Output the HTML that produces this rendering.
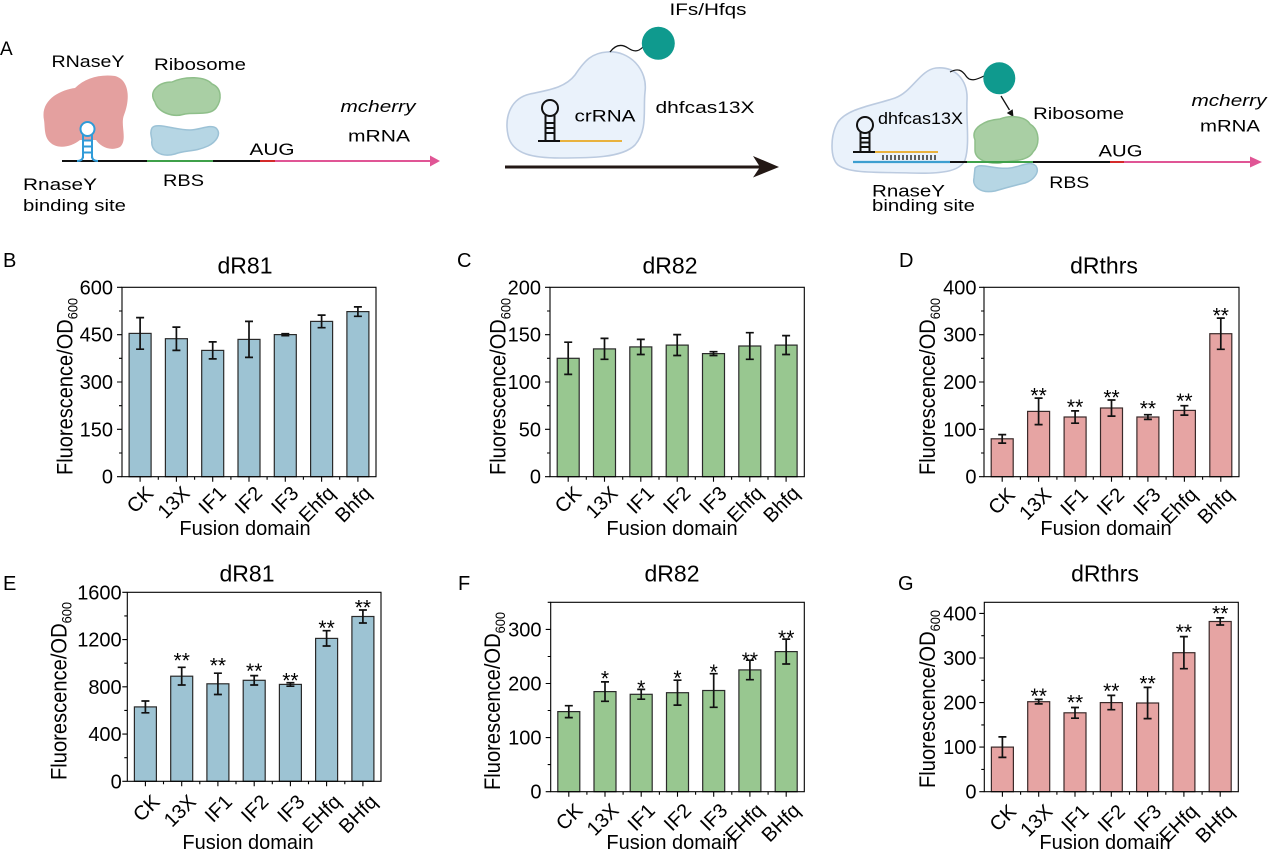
<!DOCTYPE html>
<html><head><meta charset="utf-8"><style>
html,body{margin:0;padding:0;background:#fff}
svg{display:block;font-family:"Liberation Sans",Arial,sans-serif}
.tk{font-size:20px;text-anchor:end}
.ct{font-size:20px;text-anchor:end}
.tl{font-size:23px;text-anchor:middle}
.ax{font-size:20px;text-anchor:middle}
.yl{font-size:22px;text-anchor:middle}
.st{font-size:21px;text-anchor:middle}
.pl{font-size:20px}
.s{font-size:17px}
.m{text-anchor:middle}
.fr{fill:none;stroke:#000;stroke-width:1.1}
.tm{fill:none;stroke:#000;stroke-width:1.1}
.eb{fill:none;stroke:#111;stroke-width:1.7}
.bb{fill:#9dc3d3;stroke:#2a2a2a;stroke-width:1.2}
.bg{fill:#98c790;stroke:#2a2a2a;stroke-width:1.2}
.bp{fill:#e6a4a3;stroke:#3a2a2a;stroke-width:1.2}
</style></head><body>
<svg width="1269" height="852" viewBox="0 0 1269 852" xmlns="http://www.w3.org/2000/svg">
<rect width="1269" height="852" fill="#fff"/>

<!-- ===== Panel A left ===== -->
<text x="0" y="55" style="font-size:19px">A</text>
<text x="88" y="67" class="s m" textLength="73" lengthAdjust="spacingAndGlyphs">RNaseY</text>
<text x="200" y="70" class="s m" textLength="92" lengthAdjust="spacingAndGlyphs">Ribosome</text>
<path d="M44 120 C40 100,60 90,75 88 C85 78,100 74,115 76 C130 80,130 100,124 115 C120 125,128 140,120 147 C110 152,100 146,96 140 L80 140 C70 148,55 150,48 140 C44 134,45 126,44 120 Z" fill="#e4a09f"/>
<path d="M155 102 C148 92,158 82,172 82 C185 76,205 76,212 84 C222 88,222 100,216 108 C210 116,195 112,185 114 C172 118,158 112,155 102 Z" fill="#a9cfa4" stroke="#8fbf8a" stroke-width="1.5"/>
<path d="M152 128 C156 122,175 130,190 130 C200 130,210 124,216 128 C222 134,216 142,208 146 C195 152,185 150,175 154 C160 158,150 150,152 140 C151 135,150 132,152 128 Z" fill="#b6d6e4" stroke="#9cc2d6" stroke-width="1.5"/>
<path d="M62 161H147" stroke="#111" stroke-width="2"/>
<path d="M147 161H213" stroke="#3fa04a" stroke-width="2"/>
<path d="M213 161H260" stroke="#111" stroke-width="2"/>
<path d="M260 161H275" stroke="#d42a2a" stroke-width="2"/>
<path d="M275 161H432" stroke="#e05595" stroke-width="2"/>
<polygon points="430,155.5 440,161 430,166.5" fill="#e05595"/>
<circle cx="87.5" cy="129" r="7" fill="#fff" stroke="#2f9bd8" stroke-width="2"/>
<path d="M83 135V158M92 135V158M83 140.5H92M83 146.5H92M83 152.5H92M77 161Q83 161 83 156M98 161Q92 161 92 156" fill="none" stroke="#2f9bd8" stroke-width="2"/>
<text x="272" y="155" class="s m" textLength="45" lengthAdjust="spacingAndGlyphs">AUG</text>
<text x="378" y="112" class="s m" font-style="italic" textLength="75" lengthAdjust="spacingAndGlyphs">mcherry</text>
<text x="379" y="141.5" class="s m" textLength="62" lengthAdjust="spacingAndGlyphs">mRNA</text>
<text x="23" y="190" class="s" textLength="74" lengthAdjust="spacingAndGlyphs">RnaseY</text>
<text x="23" y="211" class="s" textLength="103" lengthAdjust="spacingAndGlyphs">binding site</text>
<text x="183.5" y="186" class="s m" textLength="41" lengthAdjust="spacingAndGlyphs">RBS</text>

<!-- ===== Panel A middle ===== -->
<text x="708" y="15" class="s m" textLength="77" lengthAdjust="spacingAndGlyphs">IFs/Hfqs</text>
<path d="M607 52 C630 50,648 70,645 92 C643 110,648 130,635 145 C622 158,590 158,560 158 C535 158,512 155,508 135 C504 115,512 98,530 94 C548 90,565 88,575 75 C585 60,592 53,607 52 Z" fill="#eaf2fb" stroke="#bccbe0" stroke-width="1.6"/>
<path d="M610 52 C616 44,622 44,628 48 S638 52,643 47" fill="none" stroke="#111" stroke-width="1.2"/>
<circle cx="658.3" cy="43.3" r="16.5" fill="#0f9a8e"/>
<circle cx="550" cy="108" r="8" fill="none" stroke="#111" stroke-width="2"/>
<path d="M545.5 115V141M554.5 115V141M545.5 123H554.5M545.5 128H554.5M545.5 133H554.5M538 141H560" fill="none" stroke="#111" stroke-width="2"/>
<path d="M560 141H622" stroke="#e9b23e" stroke-width="2"/>
<text x="605" y="121.5" class="s m" textLength="61" lengthAdjust="spacingAndGlyphs">crRNA</text>
<text x="705" y="113" class="s m" textLength="99" lengthAdjust="spacingAndGlyphs">dhfcas13X</text>
<path d="M505 167H762" stroke="#231815" stroke-width="3"/>
<path d="M753 156 L779 167 L753 177.5 L760 167 Z" fill="#231815"/>

<!-- ===== Panel A right ===== -->
<path d="M936 68 C955 66,968 80,967 100 C966 120,970 145,965 160 C960 172,940 174,910 173 C880 172,850 174,838 165 C830 158,830 135,838 122 C848 108,875 105,895 98 C912 92,920 70,936 68 Z" fill="#eaf2fb" stroke="#bccbe0" stroke-width="1.6"/>
<path d="M950 72 C958 68,962 70,966 76 S976 80,984 76" fill="none" stroke="#111" stroke-width="1.2"/>
<circle cx="999.3" cy="78.3" r="16" fill="#0f9a8e"/>
<path d="M1001 96 L1009.5 110" stroke="#111" stroke-width="1.3"/>
<polygon points="1013.5,117 1012.7,109.2 1006.8,113" fill="#111"/>
<path d="M975 140 C970 128,985 120,1000 119 C1010 115,1025 116,1030 124 C1040 130,1040 145,1033 152 C1028 162,1010 160,1000 163 C988 164,975 160,975 150 Z" fill="#a9cfa4" stroke="#8fbf8a" stroke-width="1.5"/>
<path d="M975 168 C980 162,995 170,1010 168 C1020 167,1030 160,1036 166 C1040 172,1034 180,1025 183 C1012 186,1005 188,995 191 C980 194,972 186,974 178 Z" fill="#b6d6e4" stroke="#9cc2d6" stroke-width="1.5"/>
<circle cx="865" cy="125" r="8" fill="none" stroke="#111" stroke-width="2"/>
<path d="M860.5 132V152M869.5 132V152M860.5 138H869.5M860.5 142.5H869.5M860.5 147H869.5M853 152H875" fill="none" stroke="#111" stroke-width="2"/>
<path d="M875 152H938" stroke="#e9b23e" stroke-width="2"/>
<path d="M883 155V160M887 155V160M891 155V160M895 155V160M899 155V160M903 155V160M907 155V160M911 155V160M915 155V160M919 155V160M923 155V160M927 155V160M931 155V160M935 155V160" stroke="#111" stroke-width="1.3"/>
<path d="M853 162H950" stroke="#3d9fd0" stroke-width="2.2"/>
<path d="M950 162H967" stroke="#111" stroke-width="2"/>
<path d="M967 162H1033" stroke="#3fa04a" stroke-width="2"/>
<path d="M1033 162H1110" stroke="#111" stroke-width="2"/>
<path d="M1110 162H1124" stroke="#d42a2a" stroke-width="2"/>
<path d="M1124 162H1252" stroke="#e05595" stroke-width="2"/>
<polygon points="1250,156.5 1262,162 1250,167.5" fill="#e05595"/>
<text x="878" y="124" class="s" textLength="85" lengthAdjust="spacingAndGlyphs">dhfcas13X</text>
<text x="1078.7" y="119" class="s m" textLength="91" lengthAdjust="spacingAndGlyphs">Ribosome</text>
<text x="1229" y="106" class="s m" font-style="italic" textLength="75" lengthAdjust="spacingAndGlyphs">mcherry</text>
<text x="1230" y="131.5" class="s m" textLength="60" lengthAdjust="spacingAndGlyphs">mRNA</text>
<text x="1120.5" y="156.5" class="s m" textLength="44" lengthAdjust="spacingAndGlyphs">AUG</text>
<text x="1069.3" y="188" class="s m" textLength="40" lengthAdjust="spacingAndGlyphs">RBS</text>
<text x="872" y="196.5" class="s" textLength="73" lengthAdjust="spacingAndGlyphs">RnaseY</text>
<text x="872" y="211" class="s" textLength="103" lengthAdjust="spacingAndGlyphs">binding site</text>

<!-- ===== Panel B ===== -->
<text x="3" y="267" class="pl">B</text>
<text x="245" y="273.3" class="tl">dR81</text>
<rect x="129.1" y="333.4" width="22" height="143.3" class="bb"/>
<rect x="165.4" y="338.7" width="22" height="138" class="bb"/>
<rect x="201.7" y="350.4" width="22" height="126.3" class="bb"/>
<rect x="238" y="339.4" width="22" height="137.3" class="bb"/>
<rect x="274.3" y="334.6" width="22" height="142.1" class="bb"/>
<rect x="310.6" y="321.4" width="22" height="155.3" class="bb"/>
<rect x="346.9" y="311.6" width="22" height="165.1" class="bb"/>
<path class="eb" d="M136.1 317.6H144.1M140.1 317.6V349.2M136.1 349.2H144.1M172.4 327.1H180.4M176.4 327.1V350.4M172.4 350.4H180.4M208.7 341.9H216.7M212.7 341.9V358.9M208.7 358.9H216.7M245 321.4H253M249 321.4V357.4M245 357.4H253M281.3 333.7H289.3M285.3 333.7V335.6M281.3 335.6H289.3M317.6 315.1H325.6M321.6 315.1V327.7M317.6 327.7H325.6M353.9 306.9H361.9M357.9 306.9V316.3M353.9 316.3H361.9"/>
<rect x="122" y="287.3" width="254" height="189.4" class="fr"/>
<path class="tm" d="M117 287.3H122M117 334.65H122M117 382H122M117 429.35H122M117 476.7H122M119 311H122M119 358.3H122M119 405.7H122M119 453H122M140.1 476.7V481.7M176.4 476.7V481.7M212.7 476.7V481.7M249 476.7V481.7M285.3 476.7V481.7M321.6 476.7V481.7M357.9 476.7V481.7M158.3 476.7V479.7M194.6 476.7V479.7M230.9 476.7V479.7M267.1 476.7V479.7M303.4 476.7V479.7M339.7 476.7V479.7"/>
<text x="113" y="294.3" class="tk">600</text>
<text x="113" y="341.65" class="tk">450</text>
<text x="113" y="389" class="tk">300</text>
<text x="113" y="436.35" class="tk">150</text>
<text x="113" y="483.7" class="tk">0</text>
<text class="ct" transform="translate(154.6,494.5) rotate(-45)">CK</text>
<text class="ct" transform="translate(190.9,494.5) rotate(-45)">13X</text>
<text class="ct" transform="translate(227.2,494.5) rotate(-45)">IF1</text>
<text class="ct" transform="translate(263.5,494.5) rotate(-45)">IF2</text>
<text class="ct" transform="translate(299.8,494.5) rotate(-45)">IF3</text>
<text class="ct" transform="translate(336.1,494.5) rotate(-45)">Ehfq</text>
<text class="ct" transform="translate(372.4,494.5) rotate(-45)">Bhfq</text>
<text x="245" y="535" class="ax">Fusion domain</text>
<text class="yl" transform="translate(72.5,386.5) rotate(-90)" textLength="177" lengthAdjust="spacingAndGlyphs">Fluorescence/OD<tspan font-size="14" dy="5">600</tspan></text>

<!-- ===== Panel C ===== -->
<text x="457" y="267" class="pl">C</text>
<text x="670" y="273.3" class="tl">dR82</text>
<rect x="557.2" y="358.3" width="22" height="118.4" class="bg"/>
<rect x="593.5" y="348.9" width="22" height="127.8" class="bg"/>
<rect x="629.8" y="346.9" width="22" height="129.8" class="bg"/>
<rect x="666.2" y="345.1" width="22" height="131.6" class="bg"/>
<rect x="702.5" y="353.6" width="22" height="123.1" class="bg"/>
<rect x="738.8" y="346" width="22" height="130.7" class="bg"/>
<rect x="775.1" y="345.1" width="22" height="131.6" class="bg"/>
<path class="eb" d="M564.2 342.2H572.2M568.2 342.2V374.4M564.2 374.4H572.2M600.5 338.4H608.5M604.5 338.4V359.3M600.5 359.3H608.5M636.8 339.4H644.8M640.8 339.4V354.5M636.8 354.5H644.8M673.2 334.6H681.2M677.2 334.6V355.5M673.2 355.5H681.2M709.5 351.7H717.5M713.5 351.7V355.5M709.5 355.5H717.5M745.8 332.7H753.8M749.8 332.7V359.3M745.8 359.3H753.8M782.1 335.6H790.1M786.1 335.6V354.5M782.1 354.5H790.1"/>
<rect x="550" y="287.3" width="254.3" height="189.4" class="fr"/>
<path class="tm" d="M545 287.3H550M545 334.65H550M545 382H550M545 429.35H550M545 476.7H550M547 311H550M547 358.3H550M547 405.7H550M547 453H550M568.2 476.7V481.7M604.5 476.7V481.7M640.8 476.7V481.7M677.2 476.7V481.7M713.5 476.7V481.7M749.8 476.7V481.7M786.1 476.7V481.7M586.3 476.7V479.7M622.7 476.7V479.7M659 476.7V479.7M695.3 476.7V479.7M731.6 476.7V479.7M768 476.7V479.7"/>
<text x="541" y="294.3" class="tk">200</text>
<text x="541" y="341.65" class="tk">150</text>
<text x="541" y="389" class="tk">100</text>
<text x="541" y="436.35" class="tk">50</text>
<text x="541" y="483.7" class="tk">0</text>
<text class="ct" transform="translate(582.7,494.5) rotate(-45)">CK</text>
<text class="ct" transform="translate(619,494.5) rotate(-45)">13X</text>
<text class="ct" transform="translate(655.3,494.5) rotate(-45)">IF1</text>
<text class="ct" transform="translate(691.7,494.5) rotate(-45)">IF2</text>
<text class="ct" transform="translate(728,494.5) rotate(-45)">IF3</text>
<text class="ct" transform="translate(764.3,494.5) rotate(-45)">Ehfq</text>
<text class="ct" transform="translate(800.6,494.5) rotate(-45)">Bhfq</text>
<text x="672" y="535" class="ax">Fusion domain</text>
<text class="yl" transform="translate(505.5,386.5) rotate(-90)" textLength="177" lengthAdjust="spacingAndGlyphs">Fluorescence/OD<tspan font-size="14" dy="5">600</tspan></text>

<!-- ===== Panel D ===== -->
<text x="899" y="267" class="pl">D</text>
<text x="1104" y="273.3" class="tl">dRthrs</text>
<rect x="991.2" y="438.8" width="22" height="37.9" class="bp"/>
<rect x="1027.6" y="411.4" width="22" height="65.3" class="bp"/>
<rect x="1064.1" y="417" width="22" height="59.7" class="bp"/>
<rect x="1100.5" y="408" width="22" height="68.7" class="bp"/>
<rect x="1136.9" y="417" width="22" height="59.7" class="bp"/>
<rect x="1173.4" y="410.4" width="22" height="66.3" class="bp"/>
<rect x="1209.8" y="333.7" width="22" height="143" class="bp"/>
<path class="eb" d="M998.2 434.6H1006.2M1002.2 434.6V443.1M998.2 443.1H1006.2M1034.6 398.1H1042.6M1038.6 398.1V424.6M1034.6 424.6H1042.6M1071.1 410.9H1079.1M1075.1 410.9V423.2M1071.1 423.2H1079.1M1107.5 400H1115.5M1111.5 400V416.1M1107.5 416.1H1115.5M1143.9 414.7H1151.9M1147.9 414.7V419.4M1143.9 419.4H1151.9M1180.4 405.7H1188.4M1184.4 405.7V415.1M1180.4 415.1H1188.4M1216.8 318.1H1224.8M1220.8 318.1V349.3M1216.8 349.3H1224.8"/>
<text x="1038.6" y="402.3" class="st">**</text>
<text x="1075.1" y="414" class="st">**</text>
<text x="1111.5" y="404.7" class="st">**</text>
<text x="1147.9" y="415.7" class="st">**</text>
<text x="1184.4" y="408" class="st">**</text>
<text x="1220.8" y="322.3" class="st">**</text>
<rect x="984" y="287.3" width="255" height="189.4" class="fr"/>
<path class="tm" d="M979 287.3H984M979 334.65H984M979 382H984M979 429.35H984M979 476.7H984M981 311H984M981 358.3H984M981 405.7H984M981 453H984M1002.2 476.7V481.7M1038.6 476.7V481.7M1075.1 476.7V481.7M1111.5 476.7V481.7M1147.9 476.7V481.7M1184.4 476.7V481.7M1220.8 476.7V481.7M1020.4 476.7V479.7M1056.9 476.7V479.7M1093.3 476.7V479.7M1129.7 476.7V479.7M1166.1 476.7V479.7M1202.6 476.7V479.7"/>
<text x="976.5" y="294.3" class="tk">400</text>
<text x="976.5" y="341.65" class="tk">300</text>
<text x="976.5" y="389" class="tk">200</text>
<text x="976.5" y="436.35" class="tk">100</text>
<text x="976.5" y="483.7" class="tk">0</text>
<text class="ct" transform="translate(1016.2,496) rotate(-45)">CK</text>
<text class="ct" transform="translate(1052.6,496) rotate(-45)">13X</text>
<text class="ct" transform="translate(1089.1,496) rotate(-45)">IF1</text>
<text class="ct" transform="translate(1125.5,496) rotate(-45)">IF2</text>
<text class="ct" transform="translate(1161.9,496) rotate(-45)">IF3</text>
<text class="ct" transform="translate(1198.4,496) rotate(-45)">Ehfq</text>
<text class="ct" transform="translate(1234.8,496) rotate(-45)">Bhfq</text>
<text x="1106" y="535" class="ax">Fusion domain</text>
<text class="yl" transform="translate(935,386.5) rotate(-90)" textLength="177" lengthAdjust="spacingAndGlyphs">Fluorescence/OD<tspan font-size="14" dy="5">600</tspan></text>

<!-- ===== Panel E ===== -->
<text x="3" y="590" class="pl">E</text>
<text x="247" y="581.7" class="tl">dR81</text>
<rect x="134.4" y="706.9" width="22" height="74.4" class="bb"/>
<rect x="170.7" y="676.2" width="22" height="105.1" class="bb"/>
<rect x="206.9" y="683.8" width="22" height="97.5" class="bb"/>
<rect x="243.2" y="680.3" width="22" height="101" class="bb"/>
<rect x="279.4" y="684.4" width="22" height="96.9" class="bb"/>
<rect x="315.6" y="638.4" width="22" height="142.9" class="bb"/>
<rect x="351.9" y="616.5" width="22" height="164.8" class="bb"/>
<path class="eb" d="M141.4 701H149.4M145.4 701V712.8M141.4 712.8H149.4M177.7 667.3H185.7M181.7 667.3V685M177.7 685H185.7M213.9 673.2H221.9M217.9 673.2V694.5M213.9 694.5H221.9M250.2 675.6H258.2M254.2 675.6V685M250.2 685H258.2M286.4 682.7H294.4M290.4 682.7V686.2M286.4 686.2H294.4M322.6 630.7H330.6M326.6 630.7V646M322.6 646H330.6M358.9 610H366.9M362.9 610V623M358.9 623H366.9"/>
<text x="181.7" y="667.3" class="st">**</text>
<text x="217.9" y="672.3" class="st">**</text>
<text x="254.2" y="678" class="st">**</text>
<text x="290.4" y="687.3" class="st">**</text>
<text x="326.6" y="635" class="st">**</text>
<text x="362.9" y="614.7" class="st">**</text>
<rect x="127.3" y="592.3" width="253.7" height="189" class="fr"/>
<path class="tm" d="M122.3 592.3H127.3M122.3 639.55H127.3M122.3 686.8H127.3M122.3 734.05H127.3M122.3 781.3H127.3M124.3 615.9H127.3M124.3 663.2H127.3M124.3 710.4H127.3M124.3 757.7H127.3M145.4 781.3V786.3M181.7 781.3V786.3M217.9 781.3V786.3M254.2 781.3V786.3M290.4 781.3V786.3M326.6 781.3V786.3M362.9 781.3V786.3M163.5 781.3V784.3M199.8 781.3V784.3M236 781.3V784.3M272.3 781.3V784.3M308.5 781.3V784.3M344.8 781.3V784.3"/>
<text x="121.7" y="599.3" class="tk">1600</text>
<text x="121.7" y="646.55" class="tk">1200</text>
<text x="121.7" y="693.8" class="tk">800</text>
<text x="121.7" y="741.05" class="tk">400</text>
<text x="121.7" y="788.3" class="tk">0</text>
<text class="ct" transform="translate(160.9,803) rotate(-45)">CK</text>
<text class="ct" transform="translate(197.2,803) rotate(-45)">13X</text>
<text class="ct" transform="translate(233.4,803) rotate(-45)">IF1</text>
<text class="ct" transform="translate(269.7,803) rotate(-45)">IF2</text>
<text class="ct" transform="translate(305.9,803) rotate(-45)">IF3</text>
<text class="ct" transform="translate(342.1,803) rotate(-45)">EHfq</text>
<text class="ct" transform="translate(378.4,803) rotate(-45)">BHfq</text>
<text x="248" y="849" class="ax">Fusion domain</text>
<text class="yl" transform="translate(66.5,691) rotate(-90)" textLength="178" lengthAdjust="spacingAndGlyphs">Fluorescence/OD<tspan font-size="14" dy="5">600</tspan></text>

<!-- ===== Panel F ===== -->
<text x="458" y="590" class="pl">F</text>
<text x="672" y="581.7" class="tl">dR82</text>
<rect x="557.8" y="711.6" width="22" height="80.1" class="bg"/>
<rect x="594" y="691.6" width="22" height="100.1" class="bg"/>
<rect x="630.2" y="694.3" width="22" height="97.4" class="bg"/>
<rect x="666.5" y="692.7" width="22" height="99" class="bg"/>
<rect x="702.7" y="690.5" width="22" height="101.2" class="bg"/>
<rect x="738.9" y="669.9" width="22" height="121.8" class="bg"/>
<rect x="775.2" y="651.6" width="22" height="140.1" class="bg"/>
<path class="eb" d="M564.8 705.7H572.8M568.8 705.7V717.6M564.8 717.6H572.8M601 681.9H609M605 681.9V701.3M601 701.3H609M637.2 689.4H645.2M641.2 689.4V699.2M637.2 699.2H645.2M673.5 680.2H681.5M677.5 680.2V705.1M673.5 705.1H681.5M709.7 673.7H717.7M713.7 673.7V707.3M709.7 707.3H717.7M745.9 660.2H753.9M749.9 660.2V679.7M745.9 679.7H753.9M782.2 639.1H790.2M786.2 639.1V664M782.2 664H790.2"/>
<text x="605" y="685.7" class="st">*</text>
<text x="641.2" y="695" class="st">*</text>
<text x="677.5" y="685" class="st">*</text>
<text x="713.7" y="679" class="st">*</text>
<text x="749.9" y="667" class="st">**</text>
<text x="786.2" y="645" class="st">**</text>
<rect x="550.7" y="602.3" width="253.6" height="189.4" class="fr"/>
<path class="tm" d="M545.7 629.4H550.7M545.7 683.5H550.7M545.7 737.6H550.7M545.7 791.7H550.7M547.7 656.5H550.7M547.7 710.5H550.7M547.7 764.6H550.7M547.7 602.3H550.7M568.8 791.7V796.7M605 791.7V796.7M641.2 791.7V796.7M677.5 791.7V796.7M713.7 791.7V796.7M749.9 791.7V796.7M786.2 791.7V796.7M586.9 791.7V794.7M623.1 791.7V794.7M659.4 791.7V794.7M695.6 791.7V794.7M731.8 791.7V794.7M768.1 791.7V794.7"/>
<text x="541.5" y="636.4" class="tk">300</text>
<text x="541.5" y="690.5" class="tk">200</text>
<text x="541.5" y="744.6" class="tk">100</text>
<text x="541.5" y="798.7" class="tk">0</text>
<text class="ct" transform="translate(583.8,811.7) rotate(-45)">CK</text>
<text class="ct" transform="translate(620,811.7) rotate(-45)">13X</text>
<text class="ct" transform="translate(656.2,811.7) rotate(-45)">IF1</text>
<text class="ct" transform="translate(692.5,811.7) rotate(-45)">IF2</text>
<text class="ct" transform="translate(728.7,811.7) rotate(-45)">IF3</text>
<text class="ct" transform="translate(764.9,811.7) rotate(-45)">EHfq</text>
<text class="ct" transform="translate(801.2,811.7) rotate(-45)">BHfq</text>
<text x="672" y="849" class="ax">Fusion domain</text>
<text class="yl" transform="translate(500,701) rotate(-90)" textLength="178" lengthAdjust="spacingAndGlyphs">Fluorescence/OD<tspan font-size="14" dy="5">600</tspan></text>

<!-- ===== Panel G ===== -->
<text x="898" y="590" class="pl">G</text>
<text x="1105" y="581.7" class="tl">dRthrs</text>
<rect x="991.4" y="747.1" width="22" height="44.6" class="bp"/>
<rect x="1027.7" y="701.7" width="22" height="90" class="bp"/>
<rect x="1064" y="712.8" width="22" height="78.9" class="bp"/>
<rect x="1100.3" y="702.6" width="22" height="89.1" class="bp"/>
<rect x="1136.6" y="703" width="22" height="88.7" class="bp"/>
<rect x="1172.9" y="652.7" width="22" height="139" class="bp"/>
<rect x="1209.2" y="621.5" width="22" height="170.2" class="bp"/>
<path class="eb" d="M998.4 736.9H1006.4M1002.4 736.9V757.4M998.4 757.4H1006.4M1034.7 699.4H1042.7M1038.7 699.4V703.9M1034.7 703.9H1042.7M1071 707.5H1079M1075 707.5V718.2M1071 718.2H1079M1107.3 695.4H1115.3M1111.3 695.4V709.7M1107.3 709.7H1115.3M1143.6 687.4H1151.6M1147.6 687.4V718.6M1143.6 718.6H1151.6M1179.9 636.6H1187.9M1183.9 636.6V668.7M1179.9 668.7H1187.9M1216.2 617.9H1224.2M1220.2 617.9V625M1216.2 625H1224.2"/>
<text x="1038.7" y="703" class="st">**</text>
<text x="1075" y="709.7" class="st">**</text>
<text x="1111.3" y="698" class="st">**</text>
<text x="1147.6" y="690.7" class="st">**</text>
<text x="1183.9" y="639" class="st">**</text>
<text x="1220.2" y="620.7" class="st">**</text>
<rect x="984.3" y="602.3" width="254" height="189.4" class="fr"/>
<path class="tm" d="M979.3 613.4H984.3M979.3 658H984.3M979.3 702.6H984.3M979.3 747.1H984.3M979.3 791.7H984.3M981.3 635.7H984.3M981.3 680.3H984.3M981.3 724.9H984.3M981.3 769.4H984.3M1002.4 791.7V796.7M1038.7 791.7V796.7M1075 791.7V796.7M1111.3 791.7V796.7M1147.6 791.7V796.7M1183.9 791.7V796.7M1220.2 791.7V796.7M1020.6 791.7V794.7M1056.9 791.7V794.7M1093.2 791.7V794.7M1129.5 791.7V794.7M1165.8 791.7V794.7M1202.1 791.7V794.7"/>
<text x="976.5" y="620.4" class="tk">400</text>
<text x="976.5" y="665" class="tk">300</text>
<text x="976.5" y="709.6" class="tk">200</text>
<text x="976.5" y="754.1" class="tk">100</text>
<text x="976.5" y="798.7" class="tk">0</text>
<text class="ct" transform="translate(1017.4,812.7) rotate(-45)">CK</text>
<text class="ct" transform="translate(1053.7,812.7) rotate(-45)">13X</text>
<text class="ct" transform="translate(1090,812.7) rotate(-45)">IF1</text>
<text class="ct" transform="translate(1126.3,812.7) rotate(-45)">IF2</text>
<text class="ct" transform="translate(1162.6,812.7) rotate(-45)">IF3</text>
<text class="ct" transform="translate(1198.9,812.7) rotate(-45)">EHfq</text>
<text class="ct" transform="translate(1235.2,812.7) rotate(-45)">BHfq</text>
<text x="1105" y="849" class="ax">Fusion domain</text>
<text class="yl" transform="translate(935,699) rotate(-90)" textLength="178" lengthAdjust="spacingAndGlyphs">Fluorescence/OD<tspan font-size="14" dy="5">600</tspan></text>
</svg>
</body></html>
